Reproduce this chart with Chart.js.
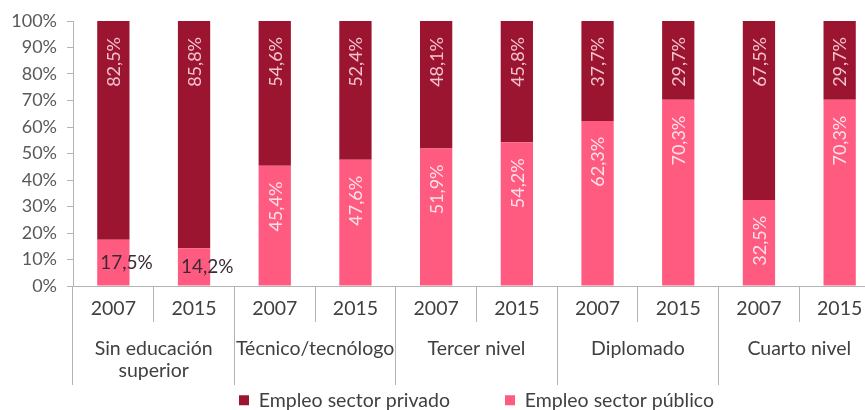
<!DOCTYPE html>
<html>
<head>
<meta charset="utf-8">
<script src="https://cdn.jsdelivr.net/npm/chart.js@4.4.0/dist/chart.umd.min.js"></script>
<style>
  html, body { margin: 0; padding: 0; background: #fff; overflow: hidden; }
  #wrap { position: relative; width: 882px; height: 420px; }
</style>
</head>
<body>
<div id="wrap"><canvas id="chart"></canvas></div>
<script>
// data
const years   = ['2007', '2015', '2007', '2015', '2007', '2015', '2007', '2015', '2007', '2015'];
const groups  = [['Sin educación', 'superior'], 'Técnico/tecnólogo', 'Tercer nivel', 'Diplomado', 'Cuarto nivel'];
const publico = [17.5, 14.2, 45.4, 47.6, 51.9, 54.2, 62.3, 70.3, 32.5, 70.3];
const privado = [82.5, 85.8, 54.6, 52.4, 48.1, 45.8, 37.7, 29.7, 67.5, 29.7];

const FONT = 'Lato';
const AXIS_GREY = '#b4b4b4';

// value labels inside the bars (rotated), small ones flat and dark
const barLabels = {
  id: 'barLabels',
  afterDatasetsDraw(chart) {
    const ctx = chart.ctx;
    chart.data.datasets.forEach((ds, di) => {
      chart.getDatasetMeta(di).data.forEach((bar, i) => {
        const v = ds.data[i];
        const txt = v.toFixed(1).replace('.', ',') + '%';
        ctx.save();
        if (v < 20) {
          ctx.font = '19px ' + FONT;
          ctx.fillStyle = '#3a2a36';
          ctx.textAlign = 'left';
          ctx.textBaseline = 'middle';
          ctx.fillText(txt, bar.x - bar.width / 2 + 3, (bar.y + bar.base) / 2);
        } else {
          ctx.font = '18px ' + FONT;
          ctx.fillStyle = ds.labelColor;
          ctx.translate(bar.x + 1, bar.y + 16);
          ctx.rotate(-Math.PI / 2);
          ctx.textAlign = 'right';
          ctx.textBaseline = 'middle';
          ctx.fillText(txt, 0, 0);
        }
        ctx.restore();
      });
    });
  }
};

new Chart(document.getElementById('chart'), {
  type: 'bar',
  data: {
    labels: years,
    datasets: [
      { label: 'Empleo sector público', data: publico, backgroundColor: '#ff5a80', labelColor: '#ffe2e9',
        borderWidth: 0, barPercentage: 0.4, categoryPercentage: 1 },
      { label: 'Empleo sector privado', data: privado, backgroundColor: '#9c1530', labelColor: '#f3c3cf',
        borderWidth: 0, barPercentage: 0.4, categoryPercentage: 1 }
    ]
  },
  options: {
    responsive: true, maintainAspectRatio: false, animation: false, devicePixelRatio: 1,
    layout: { padding: { top: 21, right: 2, bottom: 0, left: 0 } },
    plugins: {
      tooltip: { enabled: false },
      legend: {
        position: 'bottom', fullSize: false, reverse: true,
        labels: { boxWidth: 10, boxHeight: 10, padding: 55, color: '#404040', font: { family: FONT, size: 19.5 } }
      }
    },
    scales: {
      // years: mirror keeps the labels from being clipped to the thin axis box
      x: {
        stacked: true, offset: true, weight: 0,
        grid: { offset: true, drawOnChartArea: false, tickLength: 36, color: AXIS_GREY, tickColor: AXIS_GREY },
        border: { color: AXIS_GREY },
        ticks: { mirror: true, color: '#404040', padding: -32, autoSkip: false, maxRotation: 0, minRotation: 0,
                 font: { family: FONT, size: 19.5, lineHeight: 1 } },
        afterFit: s => { s.height = 26; }
      },
      x2: {
        type: 'category', labels: groups, position: 'bottom', offset: true, weight: 1,
        grid: { offset: true, drawOnChartArea: false, tickLength: 73, color: AXIS_GREY, tickColor: AXIS_GREY },
        border: { display: false },
        ticks: { mirror: true, color: '#404040', padding: -48, autoSkip: false, maxRotation: 0, minRotation: 0,
                 font: { family: FONT, size: 19.5, lineHeight: 22 / 19.5 } },
        afterFit: s => { s.height = 23.5; }
      },
      y: {
        stacked: true, min: 0, max: 100,
        grid: { drawOnChartArea: false, tickLength: 6, color: AXIS_GREY, tickColor: AXIS_GREY },
        border: { color: AXIS_GREY },
        ticks: { stepSize: 10, padding: 10, color: '#595959', callback: v => v + '%',
                 font: { family: FONT, size: 18 } },
        afterFit: s => { s.width = 73; }
      }
    }
  },
  plugins: [barLabels]
});
</script>
</body>
</html>
